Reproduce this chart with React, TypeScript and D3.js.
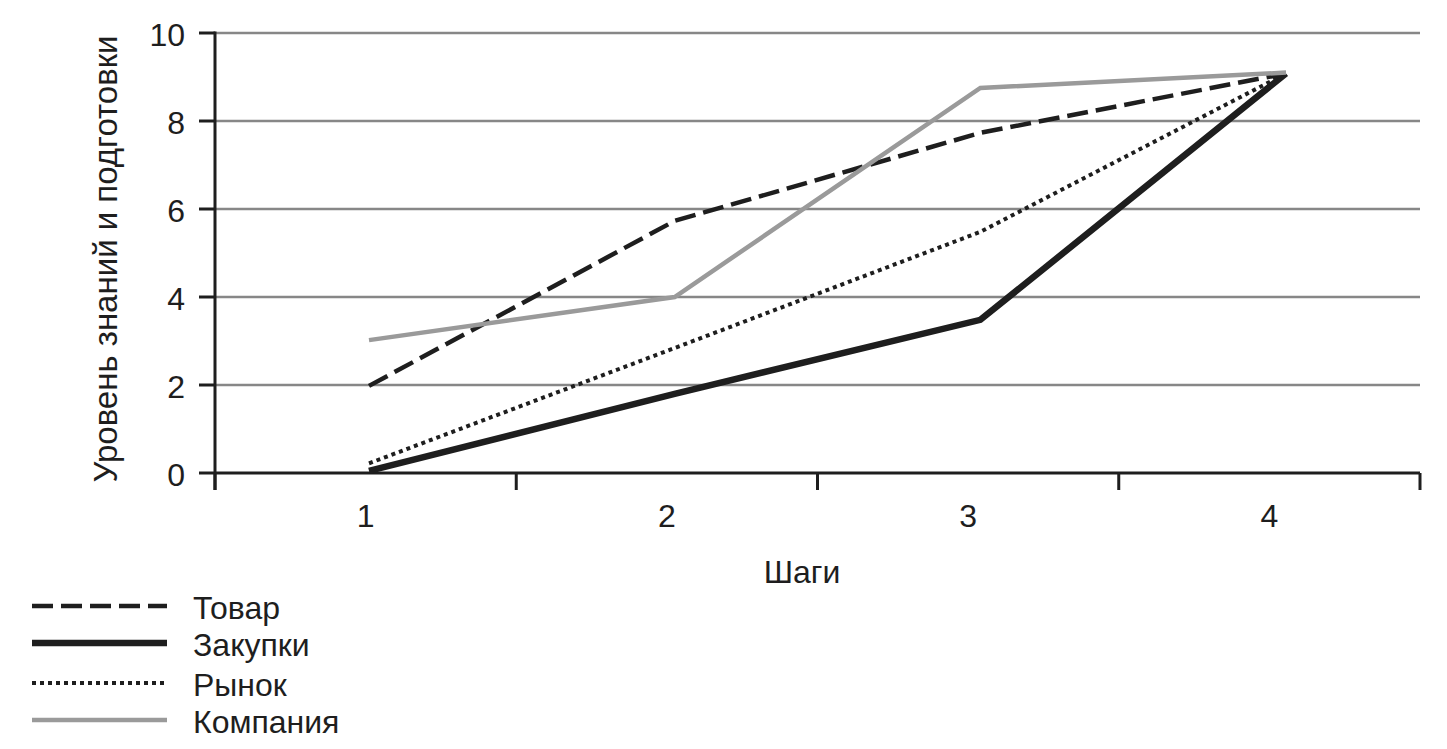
import React from "react";
import * as d3 from "d3";

const steps = ["1", "2", "3", "4"];
const stepValues = [1, 2, 3, 4];
const yTicks = [0, 2, 4, 6, 8, 10];
const tovar = [1.98, 5.73, 7.73, 9.08];
const zakupki = [0.05, 1.8, 3.48, 9.08];
const rynok = [0.22, 2.84, 5.48, 9.08];
const kompaniya = [3.02, 4.0, 8.75, 9.1];

const seriesNames = ["Товар", "Закупки", "Рынок", "Компания"];
const seriesData = [tovar, zakupki, rynok, kompaniya];
const seriesStyle = [
  { stroke: "#1e1e1e", width: 4.5, dash: "21,8" },
  { stroke: "#1e1e1e", width: 6.5, dash: "" },
  { stroke: "#1e1e1e", width: 4, dash: "4,4" },
  { stroke: "#9a9a9a", width: 4.5, dash: "" },
];

const FONT = "'Liberation Sans', Arial, Helvetica, sans-serif";
const FS = 32;

export default function App() {
  const W = 1447, H = 749;
  const left = 215, right = 1420, top = 33, bottom = 473;
  const x = d3.scaleBand().domain(steps).range([left, right]).padding(0);
  const xLine = d3.scaleLinear().domain([1, 4]).range([369, 1286]);
  const y = d3.scaleLinear().domain([0, 10]).range([bottom, top]);
  const cx = (s: string) => (x(s) as number) + x.bandwidth() / 2;
  const line = d3
    .line<number>()
    .x((_, i) => xLine(stepValues[i]))
    .y((d) => y(d));
  const boundaries = [...steps.map((s) => x(s) as number), right];
  const legendY = [606, 643, 683, 720];

  return (
    <svg width={W} height={H} style={{ position: "absolute", left: 0, top: 0, background: "#fff" }}>
      {yTicks.filter((t) => t > 0).map((t) => (
        <line key={"g" + t} x1={left} x2={right} y1={y(t)} y2={y(t)} stroke="#878787" strokeWidth={2.5} />
      ))}
      {/* y axis */}
      <line x1={left} x2={left} y1={top - 1.5} y2={bottom + 17} stroke="#1e1e1e" strokeWidth={3} />
      {yTicks.map((t) => (
        <g key={"yt" + t}>
          <line x1={left - 16} x2={left} y1={y(t)} y2={y(t)} stroke="#1e1e1e" strokeWidth={3} />
          <text x={185} y={y(t) + 12.5} textAnchor="end" fontFamily={FONT} fontSize={FS} fill="#1e1e1e">
            {t}
          </text>
        </g>
      ))}
      {/* x axis */}
      <line x1={left} x2={right} y1={bottom} y2={bottom} stroke="#1e1e1e" strokeWidth={3} />
      {boundaries.map((b, i) => (
        <line key={"xb" + i} x1={b} x2={b} y1={bottom} y2={bottom + 17} stroke="#1e1e1e" strokeWidth={3} />
      ))}
      {steps.map((s) => (
        <text key={"xl" + s} x={cx(s)} y={527} textAnchor="middle" fontFamily={FONT} fontSize={FS} fill="#1e1e1e">
          {s}
        </text>
      ))}
      <text x={802} y={583} textAnchor="middle" fontFamily={FONT} fontSize={FS} fill="#1e1e1e">
        Шаги
      </text>
      <text
        transform={`translate(117, 259) rotate(-90)`}
        textAnchor="middle"
        fontFamily={FONT}
        fontSize={33}
        fill="#1e1e1e"
      >
        Уровень знаний и подготовки
      </text>
      {/* series */}
      {seriesData.map((d, i) => (
        <path
          key={"s" + i}
          d={line(d) as string}
          fill="none"
          stroke={seriesStyle[i].stroke}
          strokeWidth={seriesStyle[i].width}
          strokeDasharray={seriesStyle[i].dash || undefined}
          strokeLinejoin="miter"
        />
      ))}
      {/* legend */}
      {seriesNames.map((n, i) => {
        const ly = legendY[i];
        return (
          <g key={"lg" + i}>
            <line
              x1={32}
              x2={167}
              y1={ly}
              y2={ly}
              stroke={seriesStyle[i].stroke}
              strokeWidth={seriesStyle[i].width}
              strokeDasharray={seriesStyle[i].dash || undefined}
            />
            <text x={193} y={ly + 13} fontFamily={FONT} fontSize={FS} fill="#1e1e1e">
              {n}
            </text>
          </g>
        );
      })}
    </svg>
  );
}
